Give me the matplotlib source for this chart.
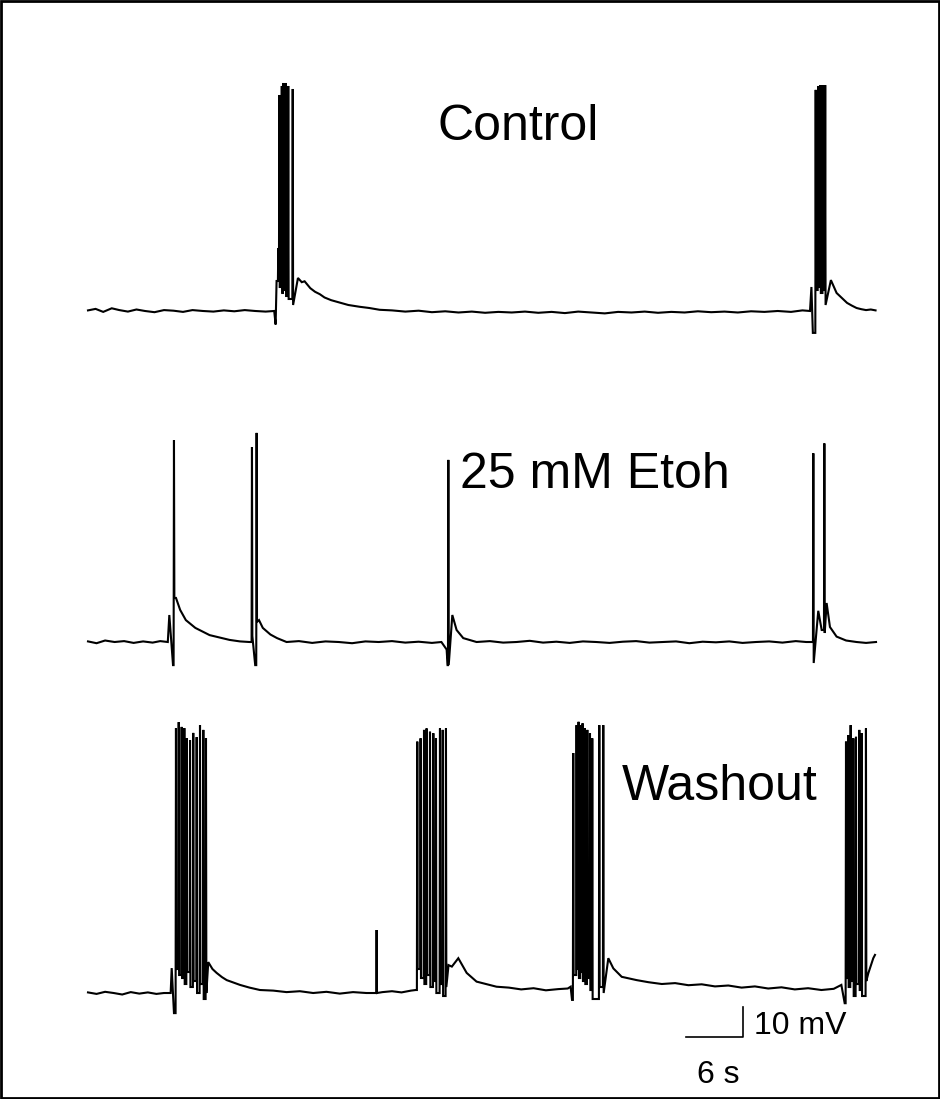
import numpy as np
import matplotlib
matplotlib.use("Agg")
import matplotlib.pyplot as plt
from matplotlib.patches import Rectangle

plt.rcParams['font.family'] = ['Liberation Sans', 'DejaVu Sans']

# ----------------------------
# Data (time in s, membrane potential in mV relative to rest)
# ----------------------------
# Control
ctrl_rest_t = [0, 0.8, 1.6, 2.5, 3.3, 4.2, 5.1, 6.0, 7.0, 8.0,
               9.0, 10.0, 11.0, 12.1, 13.2, 14.3, 15.4, 16.5, 17.6, 18.7,
               19.6, 19.75, 19.85,
               22.1, 22.5, 22.8, 23.4, 23.9, 24.4, 24.9, 25.6, 26.5, 27.4,
               28.6, 29.6, 30.7, 32.0, 33.4, 34.8, 36.2, 37.6, 39.0, 40.4,
               41.8, 43.2, 44.6, 46.0, 47.4, 48.8, 50.2, 51.6, 53.0, 54.4,
               55.8, 57.2, 58.6, 60.0, 61.4, 62.8, 64.2, 65.6, 67.0, 68.4,
               69.8, 71.2, 72.6, 74.0, 75.2, 76.0, 76.15, 76.3,
               78.2, 78.8, 79.4, 79.9, 80.4, 80.9, 81.4, 81.9, 82.4, 82.9]
ctrl_rest_mv = [0.2, 0.7, -0.3, 0.9, 0.3, -0.2, 0.5, 0.0, -0.4, 0.3,
                0.1, -0.3, 0.3, 0.0, -0.2, 0.2, -0.1, 0.3, 0.0, -0.2,
                0.0, -4.5, 10.0,
                11.0, 9.6, 9.9, 7.6, 6.4, 5.6, 4.5, 3.6, 2.8, 2.0,
                1.4, 1.0, 0.4, 0.2, -0.2, 0.1, -0.4, -0.1, -0.5, -0.2,
                -0.6, -0.3, -0.5, -0.2, -0.6, -0.3, -0.7, -0.2, -0.5, -0.8,
                -0.3, -0.5, -0.2, -0.6, -0.3, -0.5, -0.1, -0.4, -0.2, -0.5,
                -0.1, -0.3, 0.0, -0.3, 0.2, 0.0, 8.0, -7.3,
                10.3, 6.0, 4.2, 2.7, 1.8, 1.0, 0.6, 0.3, 0.5, 0.2]
ctrl_spike_t = [20.03, 20.14, 20.4, 20.56, 20.81, 21.08, 21.55,
                76.6, 76.85, 77.1, 77.35, 77.6]
ctrl_spike_peak = [21, 72, 75, 76, 76, 75, 74,
                   73.7, 75, 75.3, 75.3, 75.3]
ctrl_spike_low = [12, 8, 6, 7, 5, 4, 2,
                  7, 8, 6, 7, 2]

# 25 mM Etoh
etoh_rest_t = [0, 0.9, 1.8, 2.8, 3.8, 4.8, 5.8, 6.8, 7.6, 8.4, 8.56, 8.95,
               9.26, 9.7, 10.3, 11.3, 12.8, 14.9, 16.0, 17.0,
               17.6,
               18.0, 18.4, 19.2, 19.9, 20.9, 22.2, 23.6, 25.0, 26.4, 27.8,
               29.2, 30.6, 32.0, 33.4, 34.8, 36.2, 37.2, 37.75, 37.85,
               38.35, 38.8, 39.5, 40.9, 42.3, 43.7, 45.1, 46.5, 47.9, 49.3,
               50.7, 52.1, 53.5, 54.9, 56.3, 57.7, 59.1, 60.5, 61.9, 63.3,
               64.7, 66.1, 67.5, 68.9, 70.3, 71.7, 73.1, 74.5, 75.6, 76.2,
               76.87, 77.23,
               77.75, 78.1, 78.8, 79.8, 80.9, 81.9, 82.95]
etoh_rest_mv = [0.2, -0.4, 0.5, 0.0, 0.3, -0.3, 0.2, -0.2, 0.3, 0.0, 9.0, -7.7,
                14.7, 10.7, 7.3, 4.7, 2.3, 0.7, 0.2, 0.0,
                -7.7,
                7.3, 4.7, 2.5, 1.3, 0.0, 0.3, -0.3, 0.2, 0.0, -0.4,
                0.2, 0.0, 0.3, -0.2, 0.1, -0.3, 0.0, -2.5, -7.7,
                9.0, 4.0, 1.3, 0.0, 0.3, -0.2, 0.0, 0.4, -0.2, 0.1,
                -0.3, 0.2, 0.0, -0.3, 0.1, 0.3, -0.2, 0.0, 0.2, -0.4,
                0.1, -0.1, 0.2, -0.3, 0.0, 0.2, -0.2, 0.3, 0.0, 0.0,
                10.4, 4.0,
                13.0, 5.0, 1.8, 0.5, 0.0, -0.3, 0.0]
etoh_spike_t = [9.05, 17.26, 17.75, 37.93, 76.35, 77.51]
etoh_spike_peak = [67.3, 65.0, 69.7, 60.7, 62.9, 66.2]
etoh_spike_low = [14.7, 2.0, 6.7, -7.7, -7.0, 3.0]

# Washout
wash_rest_t = [0, 0.9, 1.8, 2.7, 3.6, 4.5, 5.4, 6.3, 7.2, 8.0, 8.7, 8.81, 9.05,
               12.66, 13.1, 13.54, 14.1, 14.6, 15.3, 16.0, 17.0, 18.1, 19.5,
               20.9, 22.3, 23.7, 25.1, 26.5, 27.9, 29.3, 30.2,
               31.0, 32.0, 33.0, 34.0, 34.5,
               37.95, 38.3, 38.98, 39.86, 40.9, 42.0, 43.0, 44.3, 45.6, 46.9,
               48.2, 49.5, 50.5, 50.8, 50.95,
               54.77, 55.3, 56.18, 57.75, 59.0, 60.4, 61.8, 63.2, 64.6, 66.0,
               67.4, 68.8, 70.2, 71.6, 73.0, 74.4, 75.8, 77.2, 78.5, 79.3,
               79.65,
               82.14, 82.66, 82.84]
wash_rest_mv = [0.2, -0.3, 0.4, 0.0, -0.5, 0.3, -0.2, 0.2, -0.3, 0.0, 0.0, 8.3, -6.7,
                10.3, 8.0, 6.7, 5.3, 4.3, 3.5, 2.7, 1.8, 1.0, 0.8,
                0.3, 0.6, 0.0, 0.4, -0.2, 0.3, 0.0, 0.0,
                0.3, 0.6, 0.2, 0.8, 1.0,
                9.3, 8.8, 11.6, 6.7, 3.8, 2.9, 2.1, 1.8, 1.2, 1.6,
                0.9, 1.3, 1.5, 2.1, -2.3,
                11.6, 8.2, 5.4, 4.3, 3.6, 3.0, 3.3, 2.6, 2.9, 2.2,
                2.5, 1.8, 2.2, 1.5, 1.9, 1.2, 1.6, 1.0, 1.4, 2.7,
                -3.4,
                6.6, 11.6, 12.7]
wash_spike_t = [9.26, 9.55, 9.86, 10.14, 10.39, 10.74, 11.08, 11.44, 11.79, 12.14, 12.42,
                30.38,
                34.66, 35.01, 35.37, 35.64, 36.0, 36.35, 36.63, 37.05, 37.34, 37.68,
                51.08, 51.43, 51.64, 51.85, 52.06, 52.31, 52.56, 52.84, 53.08, 53.82, 54.24,
                79.79, 80.03, 80.28, 80.56, 80.84, 81.19, 81.44, 81.89]
wash_spike_peak = [88.3, 90.3, 88.7, 88.3, 85.0, 84.3, 86.7, 85.3, 89.3, 87.7, 85.0,
                   21.0,
                   83.8, 84.9, 87.7, 88.2, 87.1, 86.6, 84.9, 88.2, 87.7, 88.2,
                   80.0, 89.3, 90.4, 89.3, 89.9, 88.2, 87.7, 86.6, 84.9, 89.3, 89.3,
                   83.8, 86.0, 89.3, 84.9, 85.4, 87.7, 86.6, 88.2]
wash_spike_low = [8, 6, 5, 3, 7, 2, 4, 0, 3, -2, 0,
                  0,
                  8, 5, 3, 6, 2, 4, 0, 3, -1, 2,
                  6, 8, 5, 7, 4, 3, 5, 1, -2, 2, 0,
                  5, 2, 4, -1, 3, 1, -1, 4]

labels = ['Control', '25 mM Etoh', 'Washout']


# ----------------------------
# Build a trace from rest points and spikes
# ----------------------------
def build_trace(rest_t, rest_v, sp_t, sp_peak, sp_low):
    events = [(t, 'r', v, None) for t, v in zip(rest_t, rest_v, strict=True)]
    events += [(t, 's', p, lo) for t, p, lo in zip(sp_t, sp_peak, sp_low, strict=True)]
    events.sort(key=lambda e: e[0])
    xs, ys = [], []
    for t, kind, a, b in events:
        if kind == 'r':
            xs.append(t)
            ys.append(a)
        else:
            prev = ys[-1]
            xs += [t - 0.04, t, t + 0.04]
            ys += [prev, a, b]
    return np.array(xs), np.array(ys)


traces = [
    build_trace(ctrl_rest_t, ctrl_rest_mv, ctrl_spike_t, ctrl_spike_peak, ctrl_spike_low),
    build_trace(etoh_rest_t, etoh_rest_mv, etoh_spike_t, etoh_spike_peak, etoh_spike_low),
    build_trace(wash_rest_t, wash_rest_mv, wash_spike_t, wash_spike_peak, wash_spike_low),
]
offsets = [262.67, 152.33, 35.33]

# ----------------------------
# Plot
# ----------------------------
fig = plt.figure(figsize=(9.4, 10.99), dpi=100)
ax = fig.add_axes([0, 0, 1, 1])
ax.set_xlim(-88 / 9.5, 852 / 9.5)
ax.set_ylim(0, 1099 / 3)
ax.axis('off')

for (x, y), off in zip(traces, offsets):
    ax.plot(x, y + off, color='black', lw=1.5, solid_joinstyle='miter')

ax.text(36.8, 319.67, labels[0], fontsize=36, ha='left', va='baseline')
ax.text(39.16, 203.67, labels[1], fontsize=36, ha='left', va='baseline')
ax.text(56.2, 99.67, labels[2], fontsize=36, ha='left', va='baseline')

# scale bar: 6 s, 10 mV
bar_x0, bar_y0 = 62.95, 20.67
ax.plot([bar_x0, bar_x0 + 6, bar_x0 + 6], [bar_y0, bar_y0, bar_y0 + 10],
        color='black', lw=1.2)
ax.text(70.1, 21.67, '10 mV', fontsize=23, ha='left', va='baseline')
ax.text(64.1, 5.33, '6 s', fontsize=23, ha='left', va='baseline')

# frame
fig.patches.append(Rectangle((0.0015, 0.0013), 0.997, 0.9974, transform=fig.transFigure,
                             fill=False, edgecolor='black', lw=2))

fig.savefig('out.png', dpi=100)
